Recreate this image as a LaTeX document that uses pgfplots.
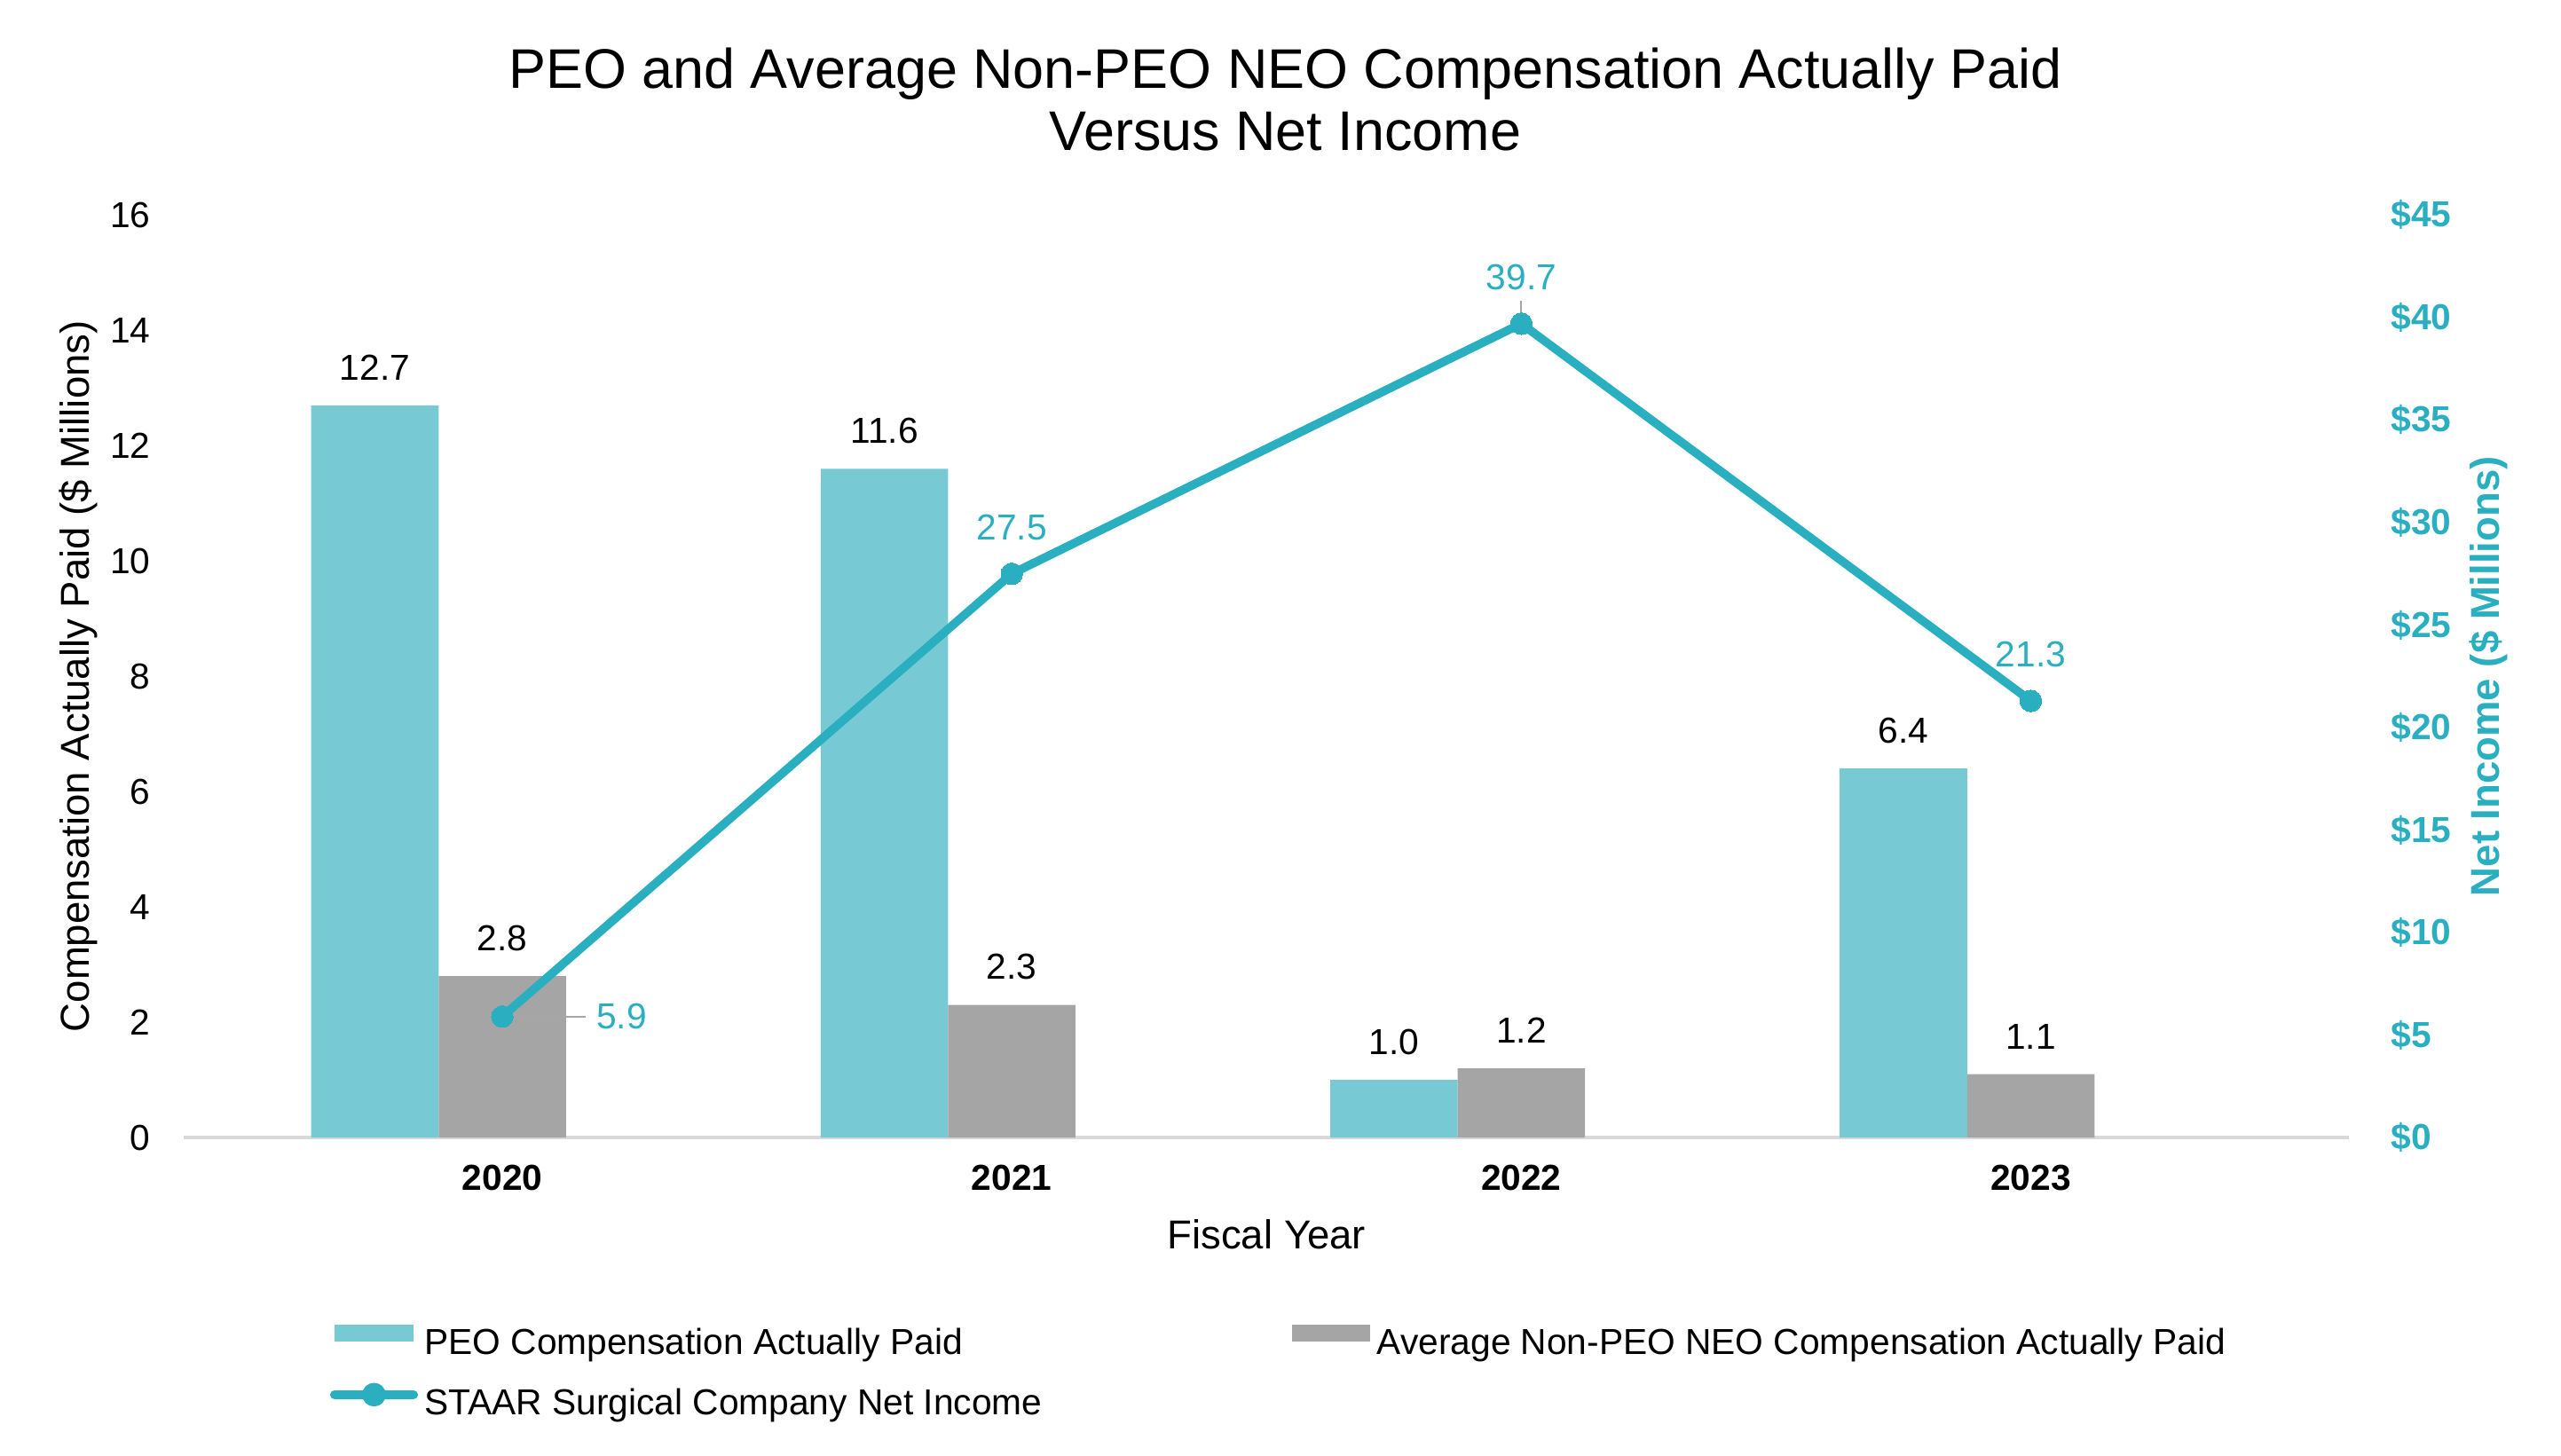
\documentclass[border=0pt]{standalone}
\usepackage{fontspec}
\setmainfont{Liberation Sans}
\usepackage{pgfplots}
\pgfplotsset{compat=1.18}
\definecolor{peo}{HTML}{77CAD3}
\definecolor{neo}{HTML}{A5A5A5}
\definecolor{ni}{HTML}{2AAFC0}
\definecolor{axisgray}{HTML}{D9D9D9}
\definecolor{leader}{HTML}{A6A6A6}
\newcommand{\tickfont}{\fontsize{11}{13}\selectfont}
\newcommand{\labfont}{\fontsize{12.3}{14.5}\selectfont}
\newcommand{\titlefont}{\fontsize{17}{19}\selectfont}
\begin{document}
\begin{tikzpicture}
\begin{axis}[
  name=main,
  scale only axis, width=659.5pt, height=281pt,
  xmin=-0.625, xmax=3.625, ymin=0, ymax=16,
  ybar=0pt, bar width=0.25,
  xtick={0,1,2,3}, xticklabels={2020,2021,2022,2023},
  ytick={0,2,...,16},
  axis x line*=bottom, axis y line*=left,
  x axis line style={draw=axisgray, line width=1pt, -},
  y axis line style={draw=none},
  tick style={draw=none},
  /pgf/number format/assume math mode=true,
  ticklabel style={font=\tickfont},
  xticklabel style={font=\bfseries\tickfont, anchor=center, yshift=-8pt},
  yticklabel style={anchor=east, inner sep=0pt, xshift=-10pt},
  xlabel={Fiscal Year},
  xlabel style={font=\labfont, at={(axis description cs:0.5,-0.105)}, anchor=center},
  ylabel={Compensation Actually Paid (\$ Millions)},
  ylabel style={font=\labfont, at={(axis description cs:-0.0487,0.5)}, anchor=center},
  title={PEO and Average Non-PEO NEO Compensation Actually Paid\\Versus Net Income},
  title style={font=\titlefont, align=center, at={(axis description cs:0.5087,1)}, anchor=south, yshift=10pt},
  nodes near coords,
  nodes near coords style={font=\tickfont, inner sep=0pt, yshift=7.5pt, color=black,
    /pgf/number format/fixed, /pgf/number format/fixed zerofill, /pgf/number format/precision=1},
  legend columns=2,
  legend cell align=left,
  legend style={at={(axis description cs:0.0672,-0.199)}, anchor=north west, draw=none, fill=none,
    font=\tickfont, inner sep=0pt, row sep=5pt,
    /tikz/every even column/.append style={column sep=74pt}},
]
\addplot[fill=peo, draw=none, bar shift=-0.25,
  legend image code/.code={\fill[peo] (0pt,0.8pt) rectangle (24pt,5.8pt);}]
  coordinates {(0,12.7) (1,11.6) (2,1.0) (3,6.4)};
\addlegendentry{PEO Compensation Actually Paid}
\addplot[fill=neo, draw=none, bar shift=0,
  legend image code/.code={\fill[neo] (0pt,0.8pt) rectangle (24pt,5.8pt);}]
  coordinates {(0,2.8) (1,2.3) (2,1.2) (3,1.1)};
\addlegendentry{Average Non-PEO NEO Compensation Actually Paid}
\addlegendimage{legend image code/.code={\draw[ni, line width=2.8pt, line cap=round] (0pt,3pt) -- (24pt,3pt); \fill[ni] (12pt,3pt) circle (3.4pt);}}
\addlegendentry{STAAR Surgical Company Net Income}
\end{axis}
\begin{axis}[
  scale only axis, width=659.5pt, height=281pt,
  xmin=-0.625, xmax=3.625, ymin=0, ymax=45,
  axis x line=none, axis y line*=right,
  y axis line style={draw=none}, tick style={draw=none},
  ytick={0,5,...,45},
  /pgf/number format/assume math mode=true,
  yticklabel={\$\pgfmathprintnumber{\tick}},
  yticklabel style={font=\bfseries\tickfont, color=ni, anchor=west, inner sep=0pt, xshift=12.5pt},
  ylabel={Net Income (\$ Millions)},
  ylabel style={font=\bfseries\labfont, color=ni, at={(axis description cs:1.0644,0.5)}, anchor=center},
  clip=false,
]
\addplot[ni, line width=2.6pt, mark=*, mark size=3.3pt, mark options={solid, fill=ni, draw=ni, line width=0pt}]
  coordinates {(0,5.9) (1,27.5) (2,39.7) (3,21.3)};
\addplot[leader, line width=0.6pt] coordinates {(0,5.9) (0.163,5.9)};
\addplot[leader, line width=0.6pt] coordinates {(2,39.7) (2,40.82)};
\addplot[draw=none, mark=none, nodes near coords, point meta=y,
  nodes near coords style={font=\tickfont, color=ni, inner sep=0pt, yshift=10pt,
    /pgf/number format/fixed, /pgf/number format/fixed zerofill, /pgf/number format/precision=1}]
  coordinates {(1,27.5) (2,39.7) (3,21.3)};
\addplot[draw=none, mark=none, nodes near coords, point meta=y, nodes near coords align=horizontal,
  nodes near coords style={font=\tickfont, color=ni, inner sep=0pt, anchor=west, xshift=28.5pt,
    /pgf/number format/fixed, /pgf/number format/fixed zerofill, /pgf/number format/precision=1}]
  coordinates {(0,5.9)};
\end{axis}
\pgfresetboundingbox
\path ([xshift=-56pt,yshift=-97pt]main.south west) rectangle ([xshift=64.5pt,yshift=65.5pt]main.north east);
\end{tikzpicture}
\end{document}
